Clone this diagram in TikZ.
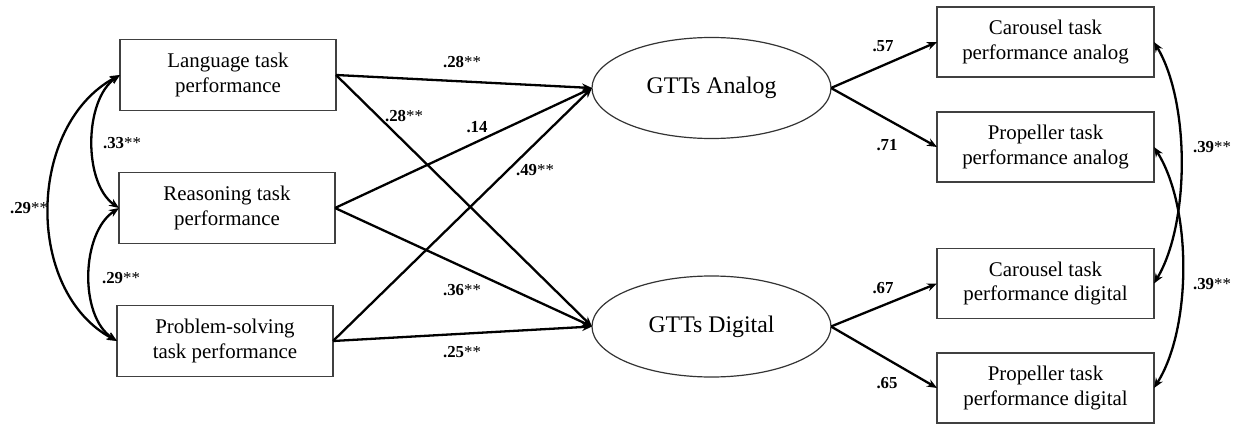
\documentclass[tikz,border=0pt]{standalone}
\usepackage{fontspec}
\setmainfont{Liberation Serif}
\usetikzlibrary{positioning,arrows.meta,shapes.geometric}

\begin{document}
\begin{tikzpicture}[
  x=1pt, y=-1pt,
  obs/.style={draw=black!75, line width=1.3pt, align=center,
    inner sep=2pt, outer sep=0pt, minimum width=216pt, minimum height=71pt,
    font=\fontsize{20.9}{24.5}\selectfont},
  latent/.style={ellipse, draw=black!80, line width=1.2pt, inner sep=0pt,
    outer sep=0pt, minimum width=239pt, minimum height=101pt,
    font=\fontsize{23.8}{28}\selectfont},
  reg/.style={-{Stealth[length=10pt,width=8pt]}, line width=2.3pt},
  cov/.style={{Stealth[length=10pt,width=8pt]}-{Stealth[length=10pt,width=8pt]},
    line width=2.3pt},
  coef/.style={inner sep=0pt, font=\fontsize{16.8}{20}\selectfont}
]
% Canvas of the reference, y running downwards.
\path[use as bounding box] (0,0) rectangle (1246,425);

% Predictors on the left.
\node[obs] (lang) at (228,75) {Language task\\performance};
\node[obs] (reas) at (227,208) {Reasoning task\\performance};
\node[obs] (prob) at (225,341) {Problem-solving\\task performance};

% The two latent factors.
\node[latent] (ana) at (711.5,88) {GTTs Analog};
\node[latent] (dig) at (711.5,326.5) {GTTs Digital};

% Indicators on the right.
\node[obs, minimum width=217pt, minimum height=70pt] (cara) at (1045.5,42)
  {Carousel task\\performance analog};
\node[obs, minimum width=217pt, minimum height=70pt] (propa) at (1045.5,147)
  {Propeller task\\performance analog};
\node[obs, minimum width=217pt, minimum height=70pt] (card) at (1045.5,283.5)
  {Carousel task\\performance digital};
\node[obs, minimum width=217pt, minimum height=70pt] (propd) at (1045.5,388)
  {Propeller task\\performance digital};

% Structural paths.
\draw[reg] (lang.east) -- (ana.west);
\draw[reg] (lang.east) -- (dig.west);
\draw[reg] (reas.east) -- (ana.west);
\draw[reg] (reas.east) -- (dig.west);
\draw[reg] (prob.east) -- (ana.west);
\draw[reg] (prob.east) -- (dig.west);

% Loadings.
\draw[reg] (ana.east) -- (cara.west);
\draw[reg] (ana.east) -- (propa.west);
\draw[reg] (dig.east) -- (card.west);
\draw[reg] (dig.east) -- (propd.west);

% Covariances.
\draw[cov] (lang.west) .. controls +(-36,25) and +(-36,-25) .. (reas.west);
\draw[cov] (reas.west) .. controls +(-38,25) and +(-38,-25) .. (prob.west);
\draw[cov] (lang.west) .. controls +(-93,50) and +(-93,-50) .. (prob.west);
\draw[cov] (cara.east) .. controls +(36,60) and +(36,-60) .. (card.east);
\draw[cov] (propa.east) .. controls +(38,60) and +(38,-60) .. (propd.east);

% Coefficients.
\node[coef] (c1) at (462,62) {\textbf{.28}**};
\node[coef] (c2) at (404,116) {\textbf{.28}**};
\node[coef] (c3) at (477,127) {\textbf{.14}};
\node[coef] (c4) at (535,170) {\textbf{.49}**};
\node[coef] (c5) at (462,290) {\textbf{.36}**};
\node[coef] (c6) at (462,352) {\textbf{.25}**};
\node[coef] (c7) at (122,143) {\textbf{.33}**};
\node[coef] (c8) at (121,278) {\textbf{.29}**};
\node[coef] (c9) at (29,208) {\textbf{.29}**};
\node[coef] (c10) at (883,46) {\textbf{.57}};
\node[coef] (c11) at (887,145) {\textbf{.71}};
\node[coef] (c12) at (883,288) {\textbf{.67}};
\node[coef] (c13) at (887,383) {\textbf{.65}};
\node[coef] (c14) at (1212,147) {\textbf{.39}**};
\node[coef] (c15) at (1212,284) {\textbf{.39}**};
\end{tikzpicture}
\end{document}
